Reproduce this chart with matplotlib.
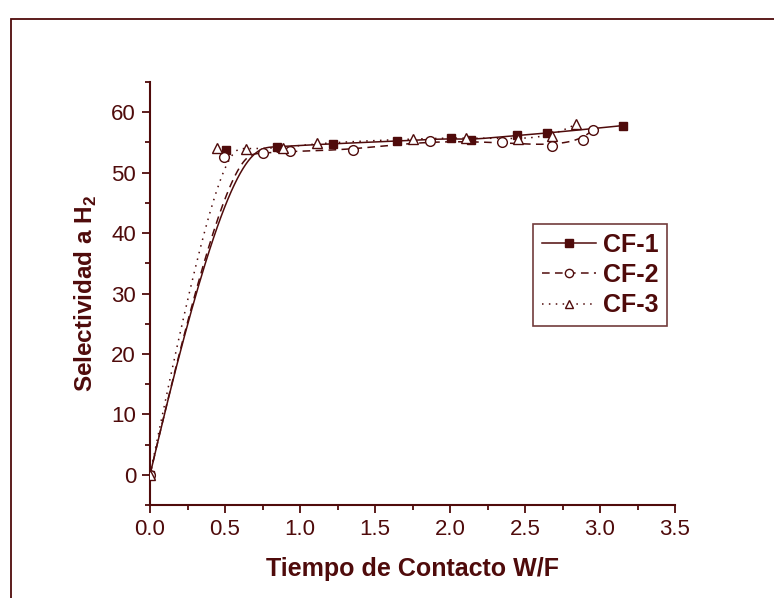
import numpy as np
import matplotlib
matplotlib.use("Agg")
import matplotlib.pyplot as plt
from matplotlib.patches import Rectangle
from matplotlib.lines import Line2D
from matplotlib.ticker import MultipleLocator

# ---- data ----
cf1_x = [0.0, 0.507, 0.849, 1.222, 1.644, 2.004, 2.138, 2.444, 2.644, 3.156]
cf1_y = [0.0, 53.8, 54.3, 54.8, 55.2, 55.7, 55.4, 56.2, 56.5, 57.8]

cf2_x = [0.0, 0.493, 0.756, 0.933, 1.356, 1.867, 2.344, 2.678, 2.884, 2.951]
cf2_y = [0.0, 52.6, 53.3, 53.5, 53.8, 55.3, 55.0, 54.4, 55.4, 57.1]

cf3_x = [0.0, 0.444, 0.638, 0.884, 1.116, 1.756, 2.104, 2.451, 2.682, 2.838]
cf3_y = [0.0, 54.1, 53.9, 54.1, 54.9, 55.6, 55.8, 55.5, 56.0, 58.0]

labels = ["CF-1", "CF-2", "CF-3"]
x_label = "Tiempo de Contacto W/F"
y_label = r"Selectividad a H$_\mathbf{2}$"

COL = "#4f0b0b"
W, H = 774, 598

plt.rcParams['font.family'] = ['Liberation Sans', 'DejaVu Sans']
plt.rcParams['mathtext.fontset'] = 'custom'
plt.rcParams['mathtext.rm'] = 'Liberation Sans'
plt.rcParams['mathtext.bf'] = 'Liberation Sans:bold'


def bspline(px, py, k=3, num=500):
    """Clamped uniform B-spline using the data points as control points."""
    P = np.column_stack([px, py]).astype(float)
    n = len(P)
    k = min(k, n - 1)
    inner = np.linspace(0, 1, n - k + 1)
    t = np.concatenate([np.zeros(k), inner, np.ones(k)])
    u = np.linspace(0, 1, num)
    u[-1] -= 1e-12
    N = np.zeros((num, len(t) - 1))
    for i in range(len(t) - 1):
        N[:, i] = ((u >= t[i]) & (u < t[i + 1])).astype(float)
    for d in range(1, k + 1):
        Nn = np.zeros((num, len(t) - 1 - d))
        for i in range(len(t) - 1 - d):
            a = np.zeros(num)
            b = np.zeros(num)
            if t[i + d] != t[i]:
                a = (u - t[i]) / (t[i + d] - t[i]) * N[:, i]
            if t[i + d + 1] != t[i + 1]:
                b = (t[i + d + 1] - u) / (t[i + d + 1] - t[i + 1]) * N[:, i + 1]
            Nn[:, i] = a + b
        N = Nn
    C = N @ P
    return C[:, 0], C[:, 1]


fig = plt.figure(figsize=(W / 100, H / 100), dpi=100)
ax = fig.add_axes([150 / W, 1 - 505 / H, (675 - 150) / W, (505 - 82) / H])

lw = 1.1
series = [
    (cf1_x, cf1_y, '-', 's', COL, 6.0),
    (cf2_x, cf2_y, (0, (5, 3.5)), 'o', 'white', 7.0),
    (cf3_x, cf3_y, (0, (1, 3.5)), '^', 'white', 7.5),
]
handles = []
for (xs, ys, ls, mk, fc, ms), lab in zip(series, labels):
    sx, sy = bspline(xs, ys)
    ax.plot(sx, sy, color=COL, lw=lw, linestyle=ls, zorder=2)
    ax.plot(xs, ys, linestyle='none', marker=mk, ms=ms, mfc=fc, mec=COL,
            mew=1.0, zorder=3)
    handles.append(Line2D([], [], color=COL, lw=lw, linestyle=ls, marker=mk,
                          ms=ms * 0.85, mfc=fc, mec=COL, mew=1.0))

ax.set_xlim(0, 3.5)
ax.set_ylim(-5, 65)
ax.xaxis.set_minor_locator(MultipleLocator(0.25))
ax.yaxis.set_minor_locator(MultipleLocator(5))
ax.set_yticks([0, 10, 20, 30, 40, 50, 60])
ax.set_xticks([0.0, 0.5, 1.0, 1.5, 2.0, 2.5, 3.0, 3.5])
ax.set_xticklabels(["0.0", "0.5", "1.0", "1.5", "2.0", "2.5", "3.0", "3.5"])

for s in ['top', 'right']:
    ax.spines[s].set_visible(False)
for s in ['left', 'bottom']:
    ax.spines[s].set_color(COL)
    ax.spines[s].set_linewidth(1.5)

ax.tick_params(which='major', direction='out', length=6, width=1.3,
               color=COL, labelcolor=COL, labelsize=16, pad=4)
ax.tick_params(which='minor', direction='out', length=3.5, width=1.3,
               color=COL)

ax.set_xlabel(x_label, fontsize=18, fontweight='bold', color=COL, labelpad=12)
ax.set_ylabel(y_label, fontsize=17.5, fontweight='bold', color=COL, labelpad=9)

leg = ax.legend(handles, labels, loc='upper left',
                bbox_to_anchor=(533 / W, 1 - 224 / H),
                bbox_transform=fig.transFigure,
                prop={'weight': 'bold', 'size': 18}, labelcolor=COL,
                frameon=True, fancybox=False, edgecolor=COL,
                handlelength=2.15, handletextpad=0.3, borderpad=0.35,
                labelspacing=0.25, borderaxespad=0, numpoints=1)
leg.get_frame().set_linewidth(1.2)

fig.add_artist(Rectangle((11 / W, -0.1), 2.0, (1 - 19 / H) + 0.1,
                         transform=fig.transFigure, fill=False,
                         edgecolor=COL, lw=1.3, clip_on=False))

fig.savefig("out.png", dpi=100)
